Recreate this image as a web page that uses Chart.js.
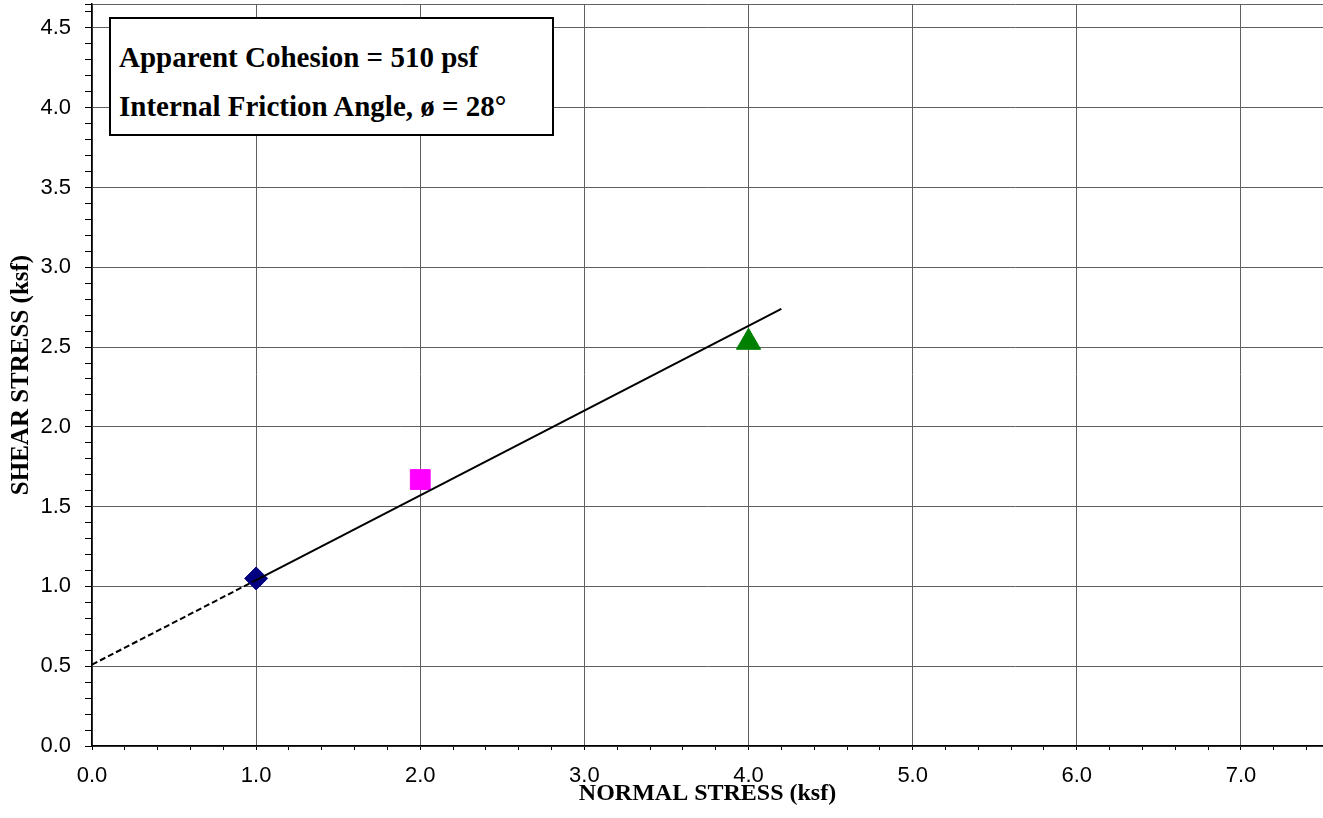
<!DOCTYPE html>
<html>
<head>
<meta charset="utf-8">
<title>Direct Shear Test</title>
<script src="https://cdn.jsdelivr.net/npm/chart.js@4.4.1/dist/chart.umd.min.js"></script>
<style>
  html, body { margin: 0; padding: 0; background: #fff; overflow: hidden; }
  #wrap { position: relative; width: 1323px; height: 818px; }
  #note {
    position: absolute; left: 109px; top: 17px; width: 445px; height: 119px;
    box-sizing: border-box; border: 2px solid #000; background: #fff;
    padding: 14px 0 0 8px;
    font: bold 29px 'Liberation Serif', 'Times New Roman', serif;
    line-height: 49px; color: #000; white-space: nowrap;
  }
</style>
</head>
<body>
<div id="wrap">
  <canvas id="shearChart"></canvas>
  <div id="note">
    <div>Apparent Cohesion = 510 psf</div>
    <div>Internal Friction Angle, &oslash; = 28&deg;</div>
  </div>
</div>
<script>
// test points (normal stress, peak shear stress), ksf
const normalStress = [1.0, 2.0, 4.0];
const shearStress = [1.05, 1.67, 2.53];
const pointStyles = ['rectRot', 'rect', 'triangle'];
const pointColors = ['#000080', '#ff00ff', '#008000'];
const pointSizes = [11.5, 14, 14];

// failure envelope: dashed back to the intercept, solid over the tested range
const envelopeDashedX = [0.0, 1.0];
const envelopeDashedY = [0.51, 1.04];
const envelopeSolidX = [1.0, 4.2];
const envelopeSolidY = [1.04, 2.74];

// axes
const xMajor = [0, 1, 2, 3, 4, 5, 6, 7];
const xMinorStep = 0.2;
const xMax = 7.5;
const yMajor = [0, 0.5, 1.0, 1.5, 2.0, 2.5, 3.0, 3.5, 4.0, 4.5];
const yMinorStep = 0.1;
const yMax = 4.65;

const GRID = '#606060';
const SERIF = "'Liberation Serif', 'Times New Roman', serif";
const SANS = "'Liberation Sans', Arial, sans-serif";

const near = (a, b) => Math.abs(a - b) < 1e-6;
const isMajor = (list, v) => list.some(m => near(m, v));

function buildTicks(step, max) {
    const ticks = [];
    for (let i = 0; i * step <= max + 1e-9; i++) {
        ticks.push({ value: Math.round(i * step * 1000) / 1000 });
    }
    if (!near(ticks[ticks.length - 1].value, max)) ticks.push({ value: max });
    return ticks;
}

function pairs(xs, ys) {
    return xs.map((x, i) => ({ x: x, y: ys[i] }));
}

const pointSets = normalStress.map((x, i) => ({
    data: [{ x: x, y: shearStress[i] }],
    showLine: false,
    pointStyle: pointStyles[i],
    pointRadius: pointSizes[i],
    pointHoverRadius: pointSizes[i],
    backgroundColor: pointColors[i],
    borderColor: pointColors[i],
    pointBorderWidth: 1,
    order: 2,
}));

const lineSets = [
    {
        data: pairs(envelopeDashedX, envelopeDashedY),
        showLine: true,
        borderColor: '#000',
        borderWidth: 2,
        borderDash: [6, 3],
        pointRadius: 0,
        order: 1,
    },
    {
        data: pairs(envelopeSolidX, envelopeSolidY),
        showLine: true,
        borderColor: '#000',
        borderWidth: 2,
        pointRadius: 0,
        order: 1,
    },
];

new Chart(document.getElementById('shearChart'), {
    type: 'scatter',
    data: { datasets: lineSets.concat(pointSets) },
    options: {
        responsive: true,
        maintainAspectRatio: false,
        animation: false,
        layout: { autoPadding: false, padding: { top: 4, right: 0, left: 0, bottom: 0 } },
        plugins: { legend: { display: false }, tooltip: { enabled: false } },
        scales: {
            x: {
                type: 'linear',
                min: 0,
                max: xMax,
                afterBuildTicks: (scale) => { scale.ticks = buildTicks(xMinorStep, xMax); },
                afterFit: (scale) => {
                    scale.height = 72;
                    scale.paddingLeft = 0;
                    scale.paddingRight = 0;
                },
                ticks: {
                    autoSkip: false,
                    maxRotation: 0,
                    padding: 13,
                    color: '#000',
                    font: { family: SANS, size: 22 },
                    callback: (v) => isMajor(xMajor, v) ? v.toFixed(1) : '',
                },
                grid: {
                    color: (c) => (isMajor(xMajor, c.tick.value) || near(c.tick.value, xMax)) ? GRID : 'rgba(0,0,0,0)',
                    tickColor: '#000',
                    tickLength: 4,
                    lineWidth: 1,
                },
                border: { color: '#000', width: 1.5 },
                title: {
                    display: true,
                    text: 'NORMAL STRESS (ksf)',
                    color: '#000',
                    font: { family: SERIF, size: 24, weight: 'bold' },
                    padding: { top: 0, bottom: 10 },
                },
            },
            y: {
                type: 'linear',
                min: 0,
                max: yMax,
                afterBuildTicks: (scale) => { scale.ticks = buildTicks(yMinorStep, yMax); },
                afterFit: (scale) => {
                    scale.width = 92;
                    scale.paddingTop = 0;
                    scale.paddingBottom = 0;
                },
                ticks: {
                    autoSkip: false,
                    padding: 14,
                    color: '#000',
                    font: { family: SANS, size: 22 },
                    callback: (v) => isMajor(yMajor, v) ? v.toFixed(1) : '',
                },
                grid: {
                    color: (c) => (isMajor(yMajor, c.tick.value) || near(c.tick.value, yMax)) ? GRID : 'rgba(0,0,0,0)',
                    tickColor: '#000',
                    tickLength: 7,
                    lineWidth: 1,
                },
                border: { color: '#000', width: 1.5 },
                title: {
                    display: true,
                    text: 'SHEAR STRESS (ksf)',
                    color: '#000',
                    font: { family: SERIF, size: 25, weight: 'bold' },
                    padding: { top: 7, bottom: 0 },
                },
            },
        },
    },
});
</script>
</body>
</html>
